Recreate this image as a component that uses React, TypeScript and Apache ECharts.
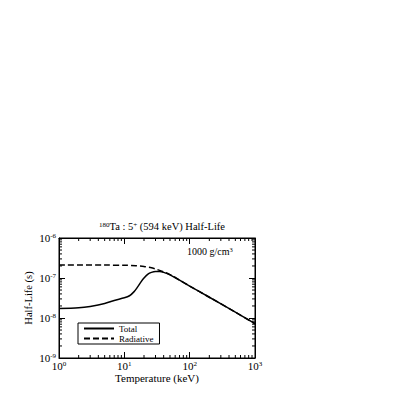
import React, { useEffect, useRef } from "react";
import * as echarts from "echarts";

const totalT = [1, 2, 3, 5, 7, 10, 12, 14, 16, 18, 20, 23, 26, 30, 35, 40, 50, 70, 100, 200, 500, 1000];
const totalV = [1.72e-8, 1.8e-8, 1.95e-8, 2.3e-8, 2.75e-8, 3.2e-8, 3.6e-8, 4.5e-8, 6e-8, 8e-8, 1.0e-7, 1.25e-7, 1.38e-7, 1.45e-7, 1.45e-7, 1.38e-7, 1.2e-7, 8.8e-8, 6.3e-8, 3.3e-8, 1.4e-8, 7.2e-9];
const radT = [1, 5, 10, 15, 20, 25, 30, 40, 50, 70, 100, 200, 500, 1000];
const radV = [2.1e-7, 2.1e-7, 2.08e-7, 2.03e-7, 1.95e-7, 1.82e-7, 1.68e-7, 1.42e-7, 1.22e-7, 8.9e-8, 6.3e-8, 3.3e-8, 1.4e-8, 7.2e-9];
const xMinorTicks = [2, 3, 4, 5, 6, 7, 8, 9, 20, 30, 40, 50, 60, 70, 80, 90, 200, 300, 400, 500, 600, 700, 800, 900];
const yMinorTicks = [2e-9, 3e-9, 4e-9, 5e-9, 6e-9, 7e-9, 8e-9, 9e-9, 2e-8, 3e-8, 4e-8, 5e-8, 6e-8, 7e-8, 8e-8, 9e-8, 2e-7, 3e-7, 4e-7, 5e-7, 6e-7, 7e-7, 8e-7, 9e-7];

const FONT = "Liberation Serif, DejaVu Serif, serif";

export default function App() {
  const ref = useRef<HTMLDivElement>(null);
  useEffect(() => {
    const chart = echarts.init(ref.current!, null, { renderer: "svg" });
    const rich = {
      b: { fontSize: 11, fontFamily: FONT, color: "#000", fontWeight: "normal" },
      s: { fontSize: 7, fontFamily: FONT, color: "#000", fontWeight: "normal", verticalAlign: "top", padding: [0, 0, 5, 0] },
    };
    const expFmt = (v: number) => `{b|10}{s|${Math.round(Math.log10(v))}}`;
    const tickLen = 3;
    chart.setOption({
      animation: false,
      grid: { left: 59, right: 148, top: 238, bottom: 45, show: true, borderColor: "#000", borderWidth: 1, backgroundColor: "transparent" },
      title: {
        text: "{s|180}{b|Ta : 5}{s|+}{b| (594 keV) Half-Life}",
        left: 157,
        top: 216,
        textAlign: "center",
        textStyle: {
          fontWeight: "normal",
          rich: {
            b: { fontSize: 10.5, fontFamily: FONT, color: "#000", fontWeight: "normal" },
            s: { fontSize: 7, fontFamily: FONT, color: "#000", fontWeight: "normal", verticalAlign: "top", padding: [0, 0, 4, 0] },
          },
        },
      },
      legend: {
        orient: "vertical",
        left: 78,
        top: 323,
        padding: [1, 6, 1, 5],
        itemGap: 1,
        itemWidth: 30,
        itemHeight: 6,
        borderColor: "#000",
        borderWidth: 1,
        itemStyle: { opacity: 0 },
        textStyle: { fontSize: 9, fontFamily: FONT, color: "#000" },
        data: ["Total", "Radiative"],
      },
      xAxis: [
        {
          type: "log", logBase: 10, min: 1, max: 1000,
          name: "Temperature (keV)", nameLocation: "middle", nameGap: 14,
          nameTextStyle: { fontSize: 11, fontFamily: FONT, color: "#000" },
          axisLine: { show: true, lineStyle: { color: "#000" } },
          axisTick: { inside: true, length: 6, lineStyle: { color: "#000" } },
          axisLabel: { formatter: expFmt, rich, margin: 2 },
          splitLine: { show: false },
        },
        {
          type: "log", logBase: 10, min: 1, max: 1000, position: "top",
          axisLine: { show: true, lineStyle: { color: "#000" } },
          axisTick: { inside: true, length: 6, lineStyle: { color: "#000" } },
          axisLabel: { show: false },
          splitLine: { show: false },
        },
      ],
      yAxis: [
        {
          type: "log", logBase: 10, min: 1e-9, max: 1e-6,
          name: "Half-Life (s)", nameLocation: "middle", nameGap: 25, nameRotate: 90,
          nameTextStyle: { fontSize: 10.5, fontFamily: FONT, color: "#000" },
          axisLine: { show: true, lineStyle: { color: "#000" } },
          axisTick: { inside: true, length: 6, lineStyle: { color: "#000" } },
          axisLabel: { formatter: expFmt, rich, margin: 3 },
          splitLine: { show: false },
        },
        {
          type: "log", logBase: 10, min: 1e-9, max: 1e-6, position: "right",
          axisLine: { show: true, lineStyle: { color: "#000" } },
          axisTick: { inside: true, length: 6, lineStyle: { color: "#000" } },
          axisLabel: { show: false },
          splitLine: { show: false },
        },
      ],
      graphic: [
        {
          type: "text", left: 187, top: 246,
          style: {
            text: "{b|1000 g/cm}{s|3}",
            rich: { b: { fontSize: 10, fontFamily: FONT, fill: "#000" }, s: { fontSize: 6.5, fontFamily: FONT, fill: "#000", verticalAlign: "top", padding: [0, 0, 4, 0] } },
          },
        },
      ],
      series: [
        {
          name: "Total", type: "line", data: totalT.map((t, i) => [t, totalV[i]]),
          smooth: 0.3, symbol: "none", lineStyle: { color: "#000", width: 1.5, type: "solid" }, itemStyle: { color: "#000" },
        },
        {
          name: "Radiative", type: "line", data: radT.map((t, i) => [t, radV[i]]),
          smooth: 0.3, symbol: "none", lineStyle: { color: "#000", width: 1.5, type: [6, 3] }, itemStyle: { color: "#000" },
        },
        {
          type: "custom", silent: true, data: xMinorTicks.map((v) => [v, 1e-9]),
          renderItem: (params: any, api: any) => {
            const p = api.coord([api.value(0), 1e-9]);
            const cs = params.coordSys;
            return {
              type: "group",
              children: [
                { type: "line", shape: { x1: p[0], y1: cs.y + cs.height, x2: p[0], y2: cs.y + cs.height - tickLen }, style: { stroke: "#000", lineWidth: 1 } },
                { type: "line", shape: { x1: p[0], y1: cs.y, x2: p[0], y2: cs.y + tickLen }, style: { stroke: "#000", lineWidth: 1 } },
              ],
            };
          },
        },
        {
          type: "custom", silent: true, data: yMinorTicks.map((v) => [1, v]),
          renderItem: (params: any, api: any) => {
            const p = api.coord([1, api.value(1)]);
            const cs = params.coordSys;
            return {
              type: "group",
              children: [
                { type: "line", shape: { x1: cs.x, y1: p[1], x2: cs.x + tickLen, y2: p[1] }, style: { stroke: "#000", lineWidth: 1 } },
                { type: "line", shape: { x1: cs.x + cs.width, y1: p[1], x2: cs.x + cs.width - tickLen, y2: p[1] }, style: { stroke: "#000", lineWidth: 1 } },
              ],
            };
          },
        },
      ],
    });
    return () => chart.dispose();
  }, []);
  return <div ref={ref} style={{ width: 403, height: 403, position: "absolute", left: 0, top: 0 }} />;
}
